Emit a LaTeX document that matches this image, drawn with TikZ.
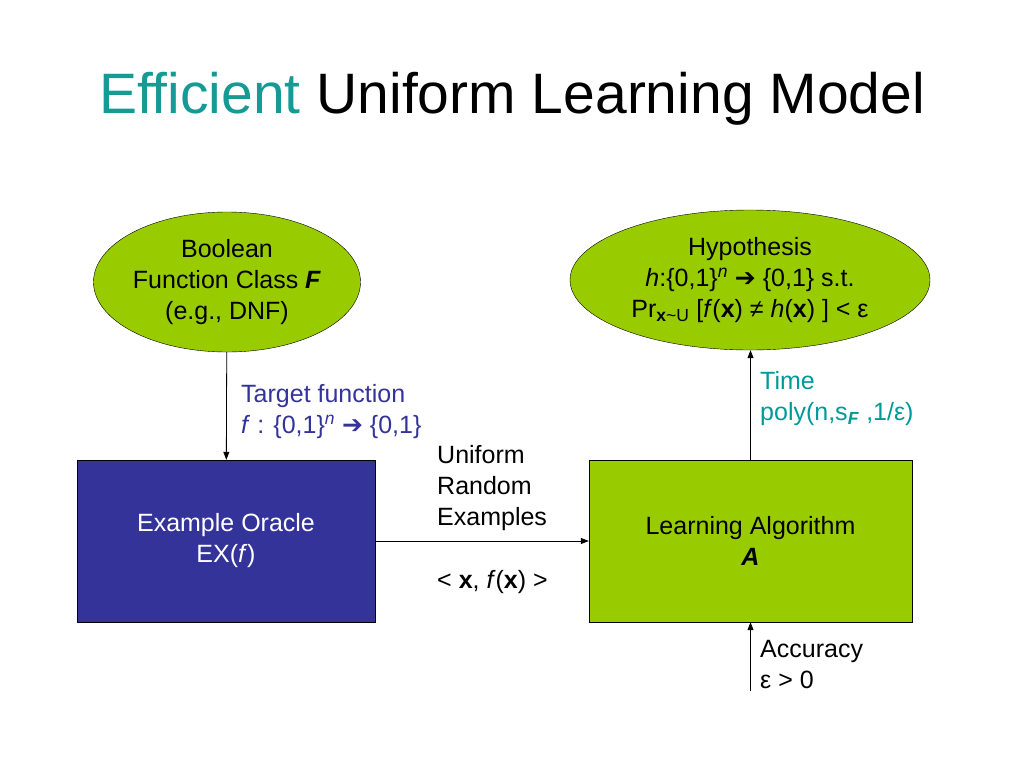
\documentclass[tikz,border=0pt]{standalone}
\usepackage{fontspec}
\setmainfont{Liberation Sans}
\newfontfamily\arrowfont{DejaVu Sans}
\usetikzlibrary{shapes.geometric,arrows.meta}
\definecolor{ttlteal}{RGB}{22,154,150}
\definecolor{boxnavy}{RGB}{51,51,153}
\definecolor{lime}{RGB}{153,204,0}
\definecolor{lblblue}{RGB}{51,51,153}
\definecolor{lblteal}{RGB}{0,153,153}
\newcommand{\thickarrow}{{\arrowfont\char"2794}}

\begin{document}
\begin{tikzpicture}[x=1pt,y=-1pt,
    font=\fontsize{25}{31}\selectfont,
    oval/.style={ellipse,draw=black,fill=lime,align=center,inner sep=0pt},
    panel/.style={rectangle,draw=black,align=center,inner sep=0pt},
    lbl/.style={anchor=west,align=left,inner sep=0pt},
    link/.style={-{Triangle[length=8pt,width=6pt]},line width=0.8pt}]
    \useasboundingbox (0,0) rectangle (1024,768);
    % title
    \node (title) at (512,99) {\fontsize{57}{60}\selectfont\textcolor{ttlteal}{Efficient} Uniform Learning Model};
    % the two ellipses
    \node[oval,minimum width=267,minimum height=140] (classF) at (227,282)
	{Boolean\\Function Class \textbf{\textit{F}}\\(e.g., DNF)};
    \node[oval,minimum width=360,minimum height=140] (hypo) at (750,280)
	{Hypothesis\\\textit{h}:\{0,1\}\textsuperscript{\textit{n}} \thickarrow{} \{0,1\} s.t.\\
	Pr\textsubscript{\textbf{x}\textasciitilde U} [\textit{f}(\textbf{x}) ≠ \textit{h}(\textbf{x}) ] < ε};
    % the two boxes
    \node[panel,fill=boxnavy,text=white,minimum width=298,minimum height=162] (oracle) at (226,541)
	{Example Oracle\\EX(\textit{f})};
    \node[panel,fill=lime,minimum width=323,minimum height=162] (learner) at (750.5,541)
	{Learning Algorithm\\\textbf{\textit{A}}};
    \coordinate (acc) at (750.5,691);
    % connectors
    \draw[link] (classF) -- (oracle);
    \draw[link] (learner.north) -- (learner.north |- hypo.south);
    \draw[link] (oracle) -- (learner);
    \draw[link] (acc) -- (learner.south);
    % labels
    \node[lbl,text=lblblue] (target) at (241,412)
	{Target function\\\textit{f} : \{0,1\}\textsuperscript{\textit{n}} \thickarrow{} \{0,1\}};
    \node[lbl,text=lblteal] (time) at (760,399)
	{Time\\poly(n,s\textsubscript{\textbf{\textit{F}}} ,1/ε)};
    \node[lbl] (unif) at (437,488) {Uniform\\Random\\Examples};
    \node[lbl] (pair) at (437,582) {< \textbf{x}, \textit{f}(\textbf{x}) >};
    \node[lbl] (accuracy) at (760,665) {Accuracy\\ε > 0};
\end{tikzpicture}
\end{document}
